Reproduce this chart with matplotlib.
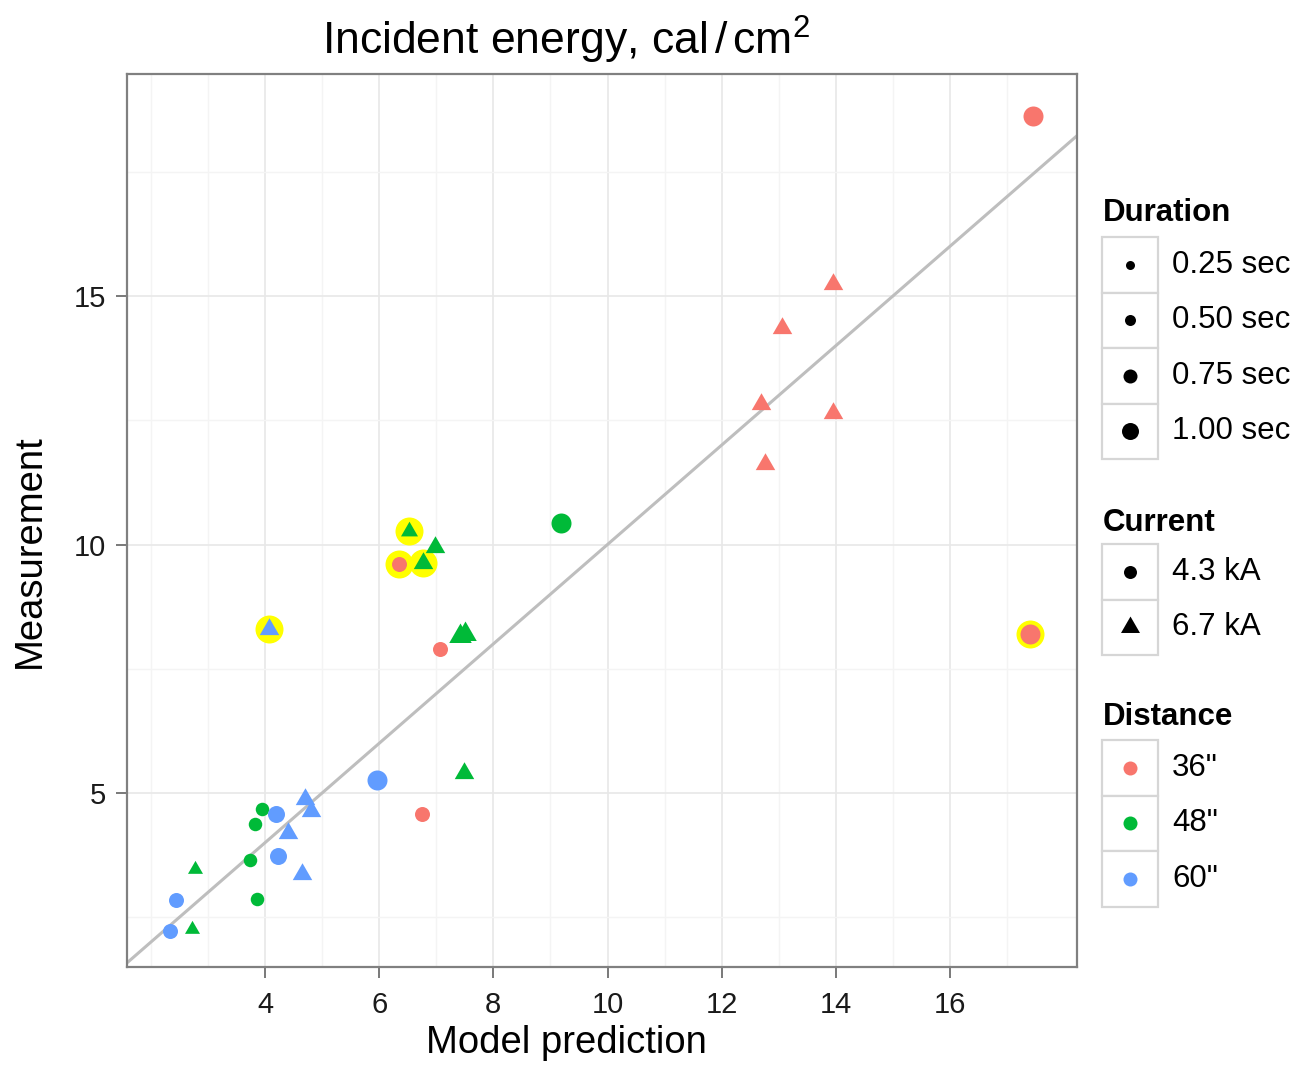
import matplotlib
matplotlib.use('Agg')
import matplotlib.pyplot as plt
from matplotlib.patches import Rectangle

plt.rcParams['font.family'] = ['Liberation Sans', 'DejaVu Sans']
plt.rcParams['mathtext.fontset'] = 'custom'
plt.rcParams['mathtext.rm'] = 'Liberation Sans'
plt.rcParams['mathtext.it'] = 'Liberation Sans:italic'
plt.rcParams['mathtext.bf'] = 'Liberation Sans:bold'

# ---------------- data ----------------
prediction = [17.45, 13.95, 13.05, 12.69, 13.95, 12.76, 6.35, 7.06, 6.75, 17.40,
              9.18, 6.98, 6.52, 6.77, 7.42, 7.50, 7.49, 3.95, 3.82, 3.74, 3.86, 2.77, 2.72,
              4.07, 5.96, 4.19, 4.40, 4.70, 4.81, 4.23, 4.65, 2.44, 2.34]
measurement = [18.62, 15.24, 14.36, 12.83, 12.65, 11.61, 9.60, 7.89, 4.57, 8.19,
               10.44, 9.94, 10.28, 9.62, 8.15, 8.20, 5.41, 4.67, 4.37, 3.66, 2.86, 3.48, 2.27,
               8.29, 5.27, 4.57, 4.20, 4.87, 4.63, 3.74, 3.38, 2.84, 2.23]
distance = ['36"'] * 10 + ['48"'] * 13 + ['60"'] * 10
current = ['4.3 kA', '6.7 kA', '6.7 kA', '6.7 kA', '6.7 kA', '6.7 kA', '4.3 kA', '4.3 kA', '4.3 kA', '4.3 kA',
           '4.3 kA', '6.7 kA', '6.7 kA', '6.7 kA', '6.7 kA', '6.7 kA', '6.7 kA', '4.3 kA', '4.3 kA', '4.3 kA', '4.3 kA', '6.7 kA', '6.7 kA',
           '6.7 kA', '4.3 kA', '4.3 kA', '6.7 kA', '6.7 kA', '6.7 kA', '4.3 kA', '6.7 kA', '4.3 kA', '4.3 kA']
duration = [1.0, 0.75, 0.75, 0.75, 0.75, 0.75, 0.5, 0.5, 0.5, 1.0,
            1.0, 0.75, 0.5, 0.75, 1.0, 1.0, 0.75, 0.25, 0.25, 0.25, 0.25, 0.25, 0.25,
            0.75, 1.0, 0.75, 0.75, 0.75, 0.75, 0.75, 0.75, 0.5, 0.5]
highlight = [False, False, False, False, False, False, True, False, False, True,
             False, False, True, True, False, False, False, False, False, False, False, False, False,
             True, False, False, False, False, False, False, False, False, False]

duration_levels = [0.25, 0.50, 0.75, 1.00]
duration_labels = ['0.25 sec', '0.50 sec', '0.75 sec', '1.00 sec']
current_levels = ['4.3 kA', '6.7 kA']
distance_levels = ['36"', '48"', '60"']

title = r'Incident energy, cal$\,$/$\,$cm$^{2}$'
xlabel = 'Model prediction'
ylabel = 'Measurement'
x_major = [4, 6, 8, 10, 12, 14, 16]
x_minor = [2, 3, 5, 7, 9, 11, 13, 15, 17]
y_major = [5, 10, 15]
y_minor = [2.5, 7.5, 12.5, 17.5]

# ---------------- styles ----------------
dist_colors = {'36"': '#F8766D', '48"': '#00BA38', '60"': '#619CFF'}
TRI = [(0, 1), (-0.866, -0.5), (0.866, -0.5)]
PX = 100 / 72.0
circle_d = {0.25: 13.5, 0.5: 15.0, 0.75: 17.0, 1.0: 20.0}   # px diameter
tri_w = {0.25: 15.0, 0.5: 17.0, 0.75: 19.5, 1.0: 22.5}      # px width


def circ_s(d):
    return (d / PX) ** 2


def tri_s(w):
    return (w / PX / 0.866) ** 2


W, H = 1302, 1068
fig = plt.figure(figsize=(W / 100, H / 100), dpi=100)
L, R, T, B = 127, 1077, 74, 967
ax = fig.add_axes([L / W, 1 - B / H, (R - L) / W, (B - T) / H])
ax.set_xlim(1.582, 18.225)
ax.set_ylim(1.499, 19.467)

ax.set_xticks(x_major)
ax.set_xticks(x_minor, minor=True)
ax.set_yticks(y_major)
ax.set_yticks(y_minor, minor=True)
ax.grid(which='major', color='#E8E8E8', linewidth=1.2, zorder=0)
ax.grid(which='minor', color='#F4F4F4', linewidth=1.0, zorder=0)
ax.set_axisbelow(True)
ax.tick_params(which='major', length=8, width=1.1, color='#555555', labelsize=21,
               labelcolor='#1A1A1A')
ax.tick_params(axis='x', which='major', pad=9)
ax.tick_params(axis='y', which='major', pad=7)
ax.tick_params(which='minor', length=0)
for sp in ax.spines.values():
    sp.set_color('#808080')
    sp.set_linewidth(1.6)

ax.axline((5, 5), slope=1, color='#BEBEBE', linewidth=2.2, zorder=1.5)

# highlights
hx = [x for x, h in zip(prediction, highlight) if h]
hy = [y for y, h in zip(measurement, highlight) if h]
ax.scatter(hx, hy, s=circ_s(28), color='#FFFF00', linewidths=0, zorder=2)

for x, y, d, c, du in zip(prediction, measurement, distance, current, duration):
    if c == '4.3 kA':
        ax.scatter([x], [y], s=circ_s(circle_d[du]), marker='o', color=dist_colors[d],
                   linewidths=0, zorder=3)
    else:
        ax.scatter([x], [y], s=tri_s(tri_w[du]), marker=TRI, color=dist_colors[d],
                   linewidths=0, zorder=3)

fig.text(566 / W, 1 - 55 / H, title, ha='center', va='baseline', fontsize=32, color='black')
fig.text(566 / W, 1 - 1043 / H, xlabel, ha='center', va='center', fontsize=27.5)
fig.text(30 / W, 1 - 551 / H, ylabel, ha='center', va='center', fontsize=27.5, rotation=90)

# ---------------- legend ----------------
lax = fig.add_axes([0, 0, 1, 1])
lax.set_xlim(0, W)
lax.set_ylim(H, 0)
lax.axis('off')

KX, KW, KH = 1102, 56, 55.5
TX = 1172
LFS = 22.5


def key_box(top):
    lax.add_patch(Rectangle((KX, top), KW, KH, facecolor='white', edgecolor='#D6D6D6',
                            linewidth=1.6, zorder=1))


lax.text(1103, 213, 'Duration', ha='left', va='center', fontsize=LFS, fontweight='bold')
dur_key_d = [9, 11, 14, 17]
for i, (lvl, lab) in enumerate(zip(duration_levels, duration_labels)):
    top = 237 + i * KH
    key_box(top)
    lax.scatter([KX + KW / 2], [top + KH / 2], s=circ_s(dur_key_d[i]), color='black',
                linewidths=0, zorder=2)
    lax.text(TX, top + KH / 2, lab, ha='left', va='center', fontsize=LFS)

lax.text(1103, 523, 'Current', ha='left', va='center', fontsize=LFS, fontweight='bold')
for i, lab in enumerate(current_levels):
    top = 544 + i * KH
    key_box(top)
    if i == 0:
        lax.scatter([KX + KW / 2], [top + KH / 2], s=circ_s(13), marker='o', color='black',
                    linewidths=0, zorder=2)
    else:
        lax.scatter([KX + KW / 2], [top + KH / 2], s=tri_s(19), marker=TRI, color='black',
                    linewidths=0, zorder=2)
    lax.text(TX, top + KH / 2, lab, ha='left', va='center', fontsize=LFS)

lax.text(1103, 717, 'Distance', ha='left', va='center', fontsize=LFS, fontweight='bold')
for i, lab in enumerate(distance_levels):
    top = 740 + i * KH
    key_box(top)
    lax.scatter([KX + KW / 2], [top + KH / 2], s=circ_s(14), color=dist_colors[lab],
                linewidths=0, zorder=2)
    lax.text(TX, top + KH / 2, lab, ha='left', va='center', fontsize=LFS)

fig.savefig('out.png', dpi=100)
